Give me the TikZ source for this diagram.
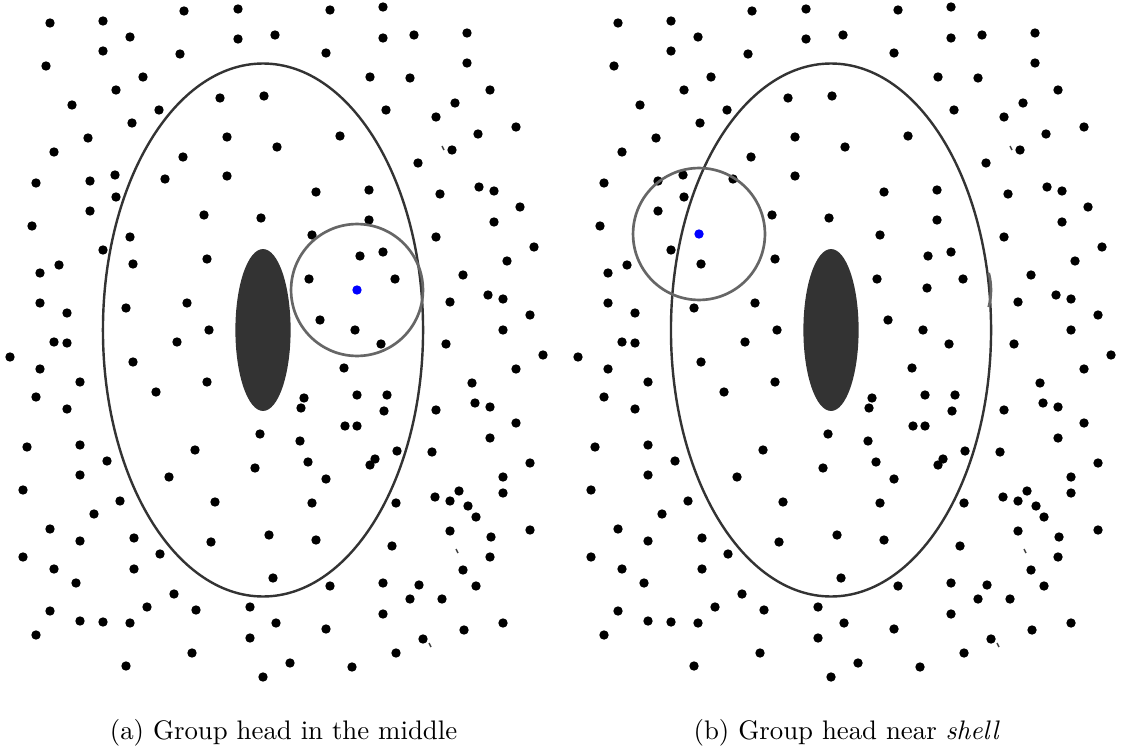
\documentclass[tikz,border=0pt]{standalone}
\usepackage{amsmath}
\usepackage{tikz}
\usetikzlibrary{arrows.meta, positioning, calc}

\begin{document}
\begin{tikzpicture}[
            x=0.373pt, y=-0.373pt,
            dot/.style = {circle, fill=black, inner sep=0pt, minimum size=3.5pt},
            head/.style = {dot, fill=blue},
            shellline/.style = {line width=0.9pt, black!80},
            hoodline/.style = {line width=1pt, black!60},
            speck/.style = {line width=0.55pt, black!75},
            >=latex]
            \def\rx{59.7pt}
            \def\ry{99.4pt}
            \def\rr{24.6pt}
            \useasboundingbox (0,0) rectangle (1129,754);
            \foreach \dx in {0,568} {
            \begin{scope}[shift={(\dx,0)}]
                \coordinate (C) at (263,330);
                \foreach \x/\y in {50/23,103/21,184/11,238/9,130/37,103/51,180/54,238/39,275/35,46/66,
                    143/77,116/90,72/105,159/110,132/123,220/98,264/96,88/138,227/137,277/147,
                    54/152,183/157,36/183,90/181,115/175,165/179,227/176,116/197,90/211,32/226,
                    204/215,261/218,330/10,383/7,383/38,414/35,467/33,326/53,467/63,370/77,
                    410/78,490/90,386/110,455/103,436/117,516/127,340/136,478/134,452/150,418/163,
                    316/192,369/190,440/194,479/187,494/191,520/207,369/220,494/222,
                    103/250,59/265,40/273,133/264,207/259,40/303,67/313,126/308,187/303,209/330,
                    54/342,67/343,177/342,10/357,40/369,133/362,80/382,207/382,36/397,156/392,
                    67/409,260/434,27/447,80/445,195/450,
                    312/235,436/237,534/247,360/256,383/252,507/261,309/279,395/279,463/275,450/302,
                    488/295,503/299,530/315,320/320,355/330,503/330,381/344,446/344,543/355,344/368,
                    516/369,472/383,304/398,301/408,357/395,387/395,384/411,436/410,475/403,490/407,
                    345/426,357/426,516/423,300/441,490/438,397/451,432/452,
                    107/461,80/475,169/477,255/468,23/490,120/501,215/502,94/514,50/529,80/541,
                    134/538,269/535,211/542,23/557,160/554,54/569,134/569,76/583,273/578,174/594,
                    50/611,147/607,196/610,250/607,80/621,103/622,130/623,276/623,36/635,250/638,
                    192/653,126/666,263/677,
                    308/462,375/459,370/465,530/463,326/479,503/477,503/493,312/503,396/503,435/497,
                    450/501,459/491,468/506,476/517,316/540,392/546,450/531,491/537,530/530,490/557,
                    463/570,330/586,383/583,419/585,410/599,442/599,476/586,383/614,326/629,464/630,
                    503/623,423/639,290/663,352/667,396/653}
                    \node[dot] at (\x,\y) {};
                \foreach \x/\y in {443/148,457/551,430/645}
                    \draw[speck] (\x,\y) +(-1,-2) -- +(1,2);
                \draw[shellline] (C) ellipse [x radius=\rx, y radius=\ry];
                \fill[black!80] (C) ellipse [x radius=10.3pt, y radius=30.2pt];
            \end{scope}
            }
            \coordinate (HA) at (357,290);
            \coordinate (HB) at (699,234);
            \node[dot] at (130,237) {};
            \draw[hoodline] (HA) circle [radius=\rr];
            \node[head] at (HA) {};
            \node[dot] at (927,288) {};
            \draw[hoodline] ($(HA)+(568,0)$) ++(-15:\rr) arc[start angle=-15, end angle=15, radius=\rr];
            \draw[hoodline] (HB) circle [radius=\rr];
            \node[head] at (HB) {};
            \node[anchor=base] (capa) at (283.5,739) {(a) Group head in the middle};
            \node[anchor=base] (capb) at (846.7,739) {(b) Group head near \textit{shell}};
        \end{tikzpicture}
\end{document}
